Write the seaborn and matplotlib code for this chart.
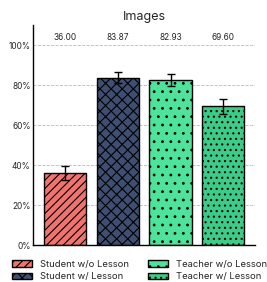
import matplotlib
matplotlib.use("Agg")
import matplotlib.pyplot as plt
import seaborn as sns
import pandas as pd
import numpy as np
from matplotlib.patches import Patch
from matplotlib.ticker import PercentFormatter

# data
methods = ["Student w/o Lesson", "Student w/ Lesson", "Teacher w/o Lesson", "Teacher w/ Lesson"]
scores = [36.00, 83.87, 82.93, 69.60]
errors = [3.5, 2.6, 3.0, 3.7]
colors = ["#f0736f", "#3f4f72", "#4de39b", "#3dcc88"]
hatches = ["////", "xxx", "..", "..."]

sns.set_theme(style="white")
plt.rcParams["font.family"] = ["Inter", "DejaVu Sans"]
plt.rcParams["hatch.linewidth"] = 0.8

df = pd.DataFrame({"method": methods, "score": scores})

fig, ax = plt.subplots(figsize=(2.67, 2.82), dpi=100)
sns.barplot(data=df, x="method", y="score", hue="method", palette=colors, saturation=1,
            width=0.8, edgecolor="black", linewidth=1.0, legend=False, ax=ax, errorbar=None)

for bar, h in zip(ax.patches, hatches):
    bar.set_hatch(h)

ax.errorbar(np.arange(len(scores)), scores, yerr=errors, fmt="none",
            ecolor="black", elinewidth=1.0, capsize=3, capthick=1.0)

for i, s in enumerate(scores):
    ax.text(i, 104, f"{s:.2f}", ha="center", va="center", fontsize=6)

ax.set_ylim(0, 110)
ax.set_xlim(-0.6, 3.6)
ax.set_yticks([0, 20, 40, 60, 80, 100])
ax.yaxis.set_major_formatter(PercentFormatter(decimals=0))
ax.tick_params(axis="y", labelsize=6, length=0, pad=2)
ax.set_xticks([])
ax.set_xlabel("")
ax.set_ylabel("")
ax.yaxis.grid(True, linestyle="--", color="#bbbbbb", linewidth=0.6)
ax.set_axisbelow(True)
for side in ["top", "right"]:
    ax.spines[side].set_visible(False)
for side in ["left", "bottom"]:
    ax.spines[side].set_color("black")
    ax.spines[side].set_linewidth(1.0)
ax.set_title("Images", fontsize=9, pad=4)

handles = [Patch(facecolor=c, edgecolor="black", hatch=h, label=m)
           for m, c, h in zip(methods, colors, hatches)]
fig.legend(handles=handles, loc="upper left", bbox_to_anchor=(0.045, 0.078), ncol=2,
           frameon=False, fontsize=6.8, handlelength=2.1, handleheight=0.75,
           columnspacing=2.0, labelspacing=0.35, handletextpad=0.85,
           borderpad=0, borderaxespad=0)

fig.subplots_adjust(left=0.125, right=0.955, top=0.91, bottom=0.13)
fig.savefig("out.png", dpi=100)
